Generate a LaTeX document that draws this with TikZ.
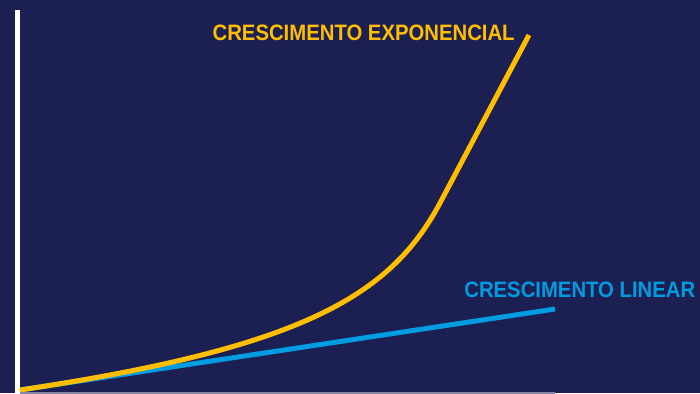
\documentclass[tikz,border=0pt]{standalone}
\usepackage{fontspec}
\usepackage{tikz}
\usepackage{xcolor}
\usetikzlibrary{positioning}
\newfontfamily\labelfont[FakeStretch=0.91]{Liberation Sans}
\definecolor{navy}{RGB}{28, 31, 81}
\definecolor{expyellow}{RGB}{255, 191, 0}
\definecolor{linblue}{RGB}{0, 156, 226}
\definecolor{axisgrey}{RGB}{135, 135, 165}
\tikzstyle{curve} = [
    line width=0.1cm,
    line join=round
]
\tikzstyle{tag} = [
    inner sep=0pt,
    font=\labelfont\bfseries\fontsize{12.7}{14}\selectfont
]

\begin{document}
\begin{tikzpicture}[x=0.02cm, y=0.02cm]
        % Background
        \fill[navy] (0,0) rectangle (700,393);
        \useasboundingbox (0,0) rectangle (700,393);

        % Axes
        \fill[white] (15,0) rectangle (20,383);
        \draw[axisgrey, line width=0.04cm] (20,0) -- (555,0);

        % Curves
        \coordinate (origin) at (20,3);
        \coordinate (linend) at (555,84);
        \coordinate (bend) at (440,190);
        \coordinate (expend) at (529,358);
        \draw[curve, linblue] (origin) -- (linend);
        \draw[curve, expyellow] (origin) .. controls (300,45) and (390,96) .. (bend) -- (expend);

        % Labels
        \node[tag, text=expyellow, anchor=base east] (explabel) at (515,353) {CRESCIMENTO EXPONENCIAL};
        \node[tag, text=linblue, anchor=base west] (linlabel) at (464,96) {CRESCIMENTO LINEAR};
    \end{tikzpicture}
\end{document}
